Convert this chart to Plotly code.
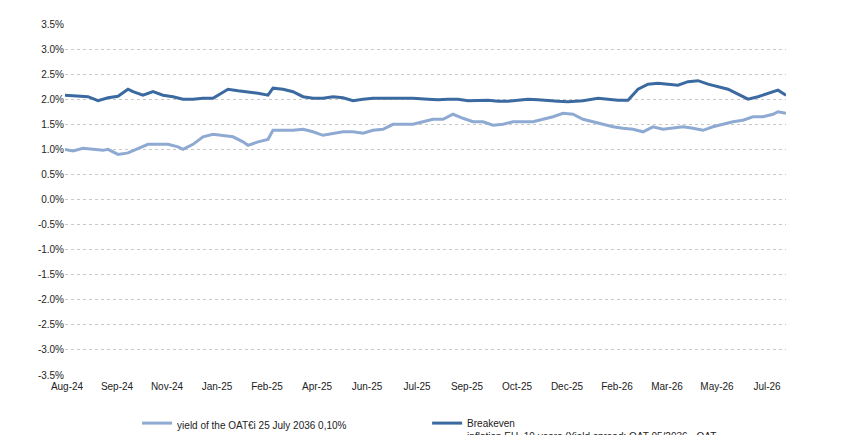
import plotly.graph_objects as go

# day offsets from the left edge of the axis
days_be = [0, 13, 23, 33, 43, 53, 63, 68, 78, 88, 98, 108, 118, 128, 138, 148, 158, 163, 173, 183,
           193, 203, 208, 218, 228, 238, 248, 258, 268, 278, 288, 298, 308, 318, 328, 338, 348, 363,
           373, 383, 393, 403, 413, 423, 433, 443, 453, 463, 473, 483, 493, 503, 518, 533, 543, 553,
           563, 573, 583, 593, 603, 613, 623, 633, 643, 653, 663, 673, 683, 693, 703, 713, 721]
breakeven = [2.08, 2.06, 2.05, 1.97, 2.03, 2.06, 2.2, 2.15, 2.08, 2.15, 2.08, 2.05, 2.0, 2.0, 2.02,
             2.02, 2.15, 2.2, 2.17, 2.15, 2.12, 2.08, 2.22, 2.2, 2.15, 2.05, 2.02, 2.02, 2.05, 2.03,
             1.97, 2.0, 2.02, 2.02, 2.02, 2.02, 2.02, 2.0, 1.99, 2.0, 2.0, 1.97, 1.98, 1.98, 1.96,
             1.96, 1.98, 2.0, 1.99, 1.97, 1.96, 1.95, 1.97, 2.02, 2.0, 1.98, 1.98, 2.2, 2.3, 2.32,
             2.3, 2.28, 2.35, 2.37, 2.3, 2.25, 2.2, 2.1, 2.0, 2.05, 2.12, 2.18, 2.08]

days_oat = [0, 8, 18, 28, 38, 43, 53, 63, 73, 83, 93, 103, 113, 118, 128, 138, 148, 158, 168, 178,
            183, 193, 203, 208, 218, 228, 238, 248, 258, 268, 278, 288, 298, 308, 318, 328, 338, 348,
            358, 368, 378, 388, 398, 408, 418, 428, 438, 448, 458, 468, 478, 488, 498, 508, 518, 528,
            538, 548, 558, 568, 578, 588, 598, 608, 618, 628, 638, 648, 658, 668, 678, 688, 698, 708,
            713, 721]
oat_yield = [1.0, 0.97, 1.02, 1.0, 0.98, 1.0, 0.9, 0.93, 1.02, 1.1, 1.1, 1.1, 1.05, 1.0, 1.1, 1.25,
             1.3, 1.28, 1.25, 1.15, 1.08, 1.15, 1.2, 1.38, 1.38, 1.38, 1.4, 1.35, 1.28, 1.32, 1.35,
             1.35, 1.32, 1.38, 1.4, 1.5, 1.5, 1.5, 1.55, 1.6, 1.6, 1.7, 1.62, 1.55, 1.55, 1.48, 1.5,
             1.55, 1.55, 1.55, 1.6, 1.65, 1.72, 1.7, 1.6, 1.55, 1.5, 1.45, 1.42, 1.4, 1.35, 1.45,
             1.4, 1.42, 1.45, 1.42, 1.38, 1.45, 1.5, 1.55, 1.58, 1.65, 1.65, 1.7, 1.75, 1.72]

tick_days = [2 + 50 * k for k in range(15)]
tick_labels = ["Aug-24", "Sep-24", "Nov-24", "Jan-25", "Feb-25", "Apr-25", "Jun-25", "Jul-25",
               "Sep-25", "Oct-25", "Dec-25", "Feb-26", "Mar-26", "May-26", "Jul-26"]
y_ticks = [v / 10 for v in range(-35, 36, 5)]
y_labels = [f"{v:.1f}%" for v in y_ticks]

fig = go.Figure()
fig.add_trace(go.Scatter(x=days_oat, y=oat_yield, mode="lines",
                         name="yield of the OAT€i 25 July 2036 0,10%",
                         line=dict(color="#8eaad2", width=3)))
fig.add_trace(go.Scatter(x=days_be, y=breakeven, mode="lines",
                         name="Breakeven<br>inflation EU  10 years (Yield spread: OAT 05/2036 - OAT€i 07/2036)",
                         line=dict(color="#3b6aa1", width=3)))

fig.update_layout(
    width=851, height=435,
    margin=dict(l=57, r=73, t=16, b=68, autoexpand=False),
    plot_bgcolor="white", paper_bgcolor="white",
    font=dict(family="Liberation Sans Narrow, Arial", size=10, color="#222"),
    legend=dict(orientation="h", x=0.1, y=-0.1, xanchor="left", yanchor="top",
                valign="top", font=dict(size=10), itemwidth=30, tracegroupgap=0,
                entrywidth=245),
    xaxis=dict(range=[0, 721], tickvals=tick_days, ticktext=tick_labels,
               showgrid=False, zeroline=False, showline=False, ticks="",
               ticklabelstandoff=4),
    yaxis=dict(range=[-3.5, 3.5], tickvals=y_ticks, ticktext=y_labels,
               showgrid=True, gridcolor="#c8c8c8", griddash="dot", zeroline=False,
               showline=False, ticks=""),
)

fig.write_html("out.html")
